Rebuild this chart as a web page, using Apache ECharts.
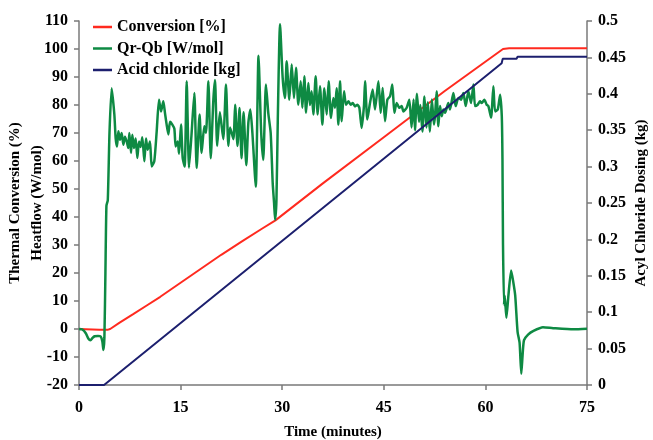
<!DOCTYPE html>
<html><head><meta charset="utf-8">
<script src="https://cdn.jsdelivr.net/npm/echarts@6/dist/echarts.min.js"></script>
<style>html,body{margin:0;padding:0;background:#fff}#c{width:653px;height:440px}</style>
</head><body><div id="c"></div>
<script>
// Time (minutes) / Conversion [%]
var convT = [0, 1, 2, 3, 4.2, 4.6, 6, 8, 10, 12, 15, 18, 21, 24, 27, 29, 36, 45, 54, 62.6, 63.5, 75];
var convV = [0, -0.1, -0.2, -0.3, -0.3, 0, 2.3, 5.3, 8.4, 11.5, 16.5, 21.5, 26.5, 31.2, 35.8, 38.8, 52, 68.5, 85, 100, 100.3, 100.3];
// Qr-Qb [W/mol]
var qT = [0, 0.5, 1.0, 1.4, 1.7, 2.0, 2.3, 2.8, 3.2, 3.45, 3.6, 3.75, 3.9, 4.05, 4.25, 4.5, 4.82, 5.22, 5.41, 5.61, 5.81, 6.05, 6.3, 6.55, 6.79, 7.04, 7.28, 7.43, 7.68, 7.87, 8.12, 8.37, 8.61, 8.86, 9.1, 9.35, 9.65, 9.89, 10.14, 10.48, 10.73, 11.12, 11.47, 11.81, 12.11, 12.45, 12.7, 12.94, 13.19, 13.44, 13.78, 14.08, 14.27, 14.57, 14.77, 15.06, 15.31, 15.6, 15.9, 16.24, 16.6, 17.03, 17.37, 17.8, 18.1, 18.5, 18.75, 19.1, 19.45, 19.84, 20.08, 20.4, 20.8, 21.3, 21.7, 22.05, 22.3, 22.8, 23.05, 23.4, 23.7, 24.0, 24.3, 24.7, 25.0, 25.3, 25.6, 26.1, 26.5, 26.9, 27.2, 27.6, 27.95, 28.3, 28.6, 28.8, 28.95, 29.15, 29.35, 29.68, 30.07, 30.41, 30.66, 31.05, 31.4, 31.74, 32.04, 32.38, 32.73, 32.98, 33.27, 33.52, 33.86, 34.1, 34.35, 34.6, 34.94, 35.24, 35.58, 35.93, 36.22, 36.57, 36.86, 37.2, 37.55, 37.8, 38.04, 38.29, 38.54, 38.78, 39.13, 39.42, 39.77, 40.11, 40.41, 40.75, 41.1, 41.39, 41.73, 42.08, 42.23, 42.57, 42.96, 43.36, 43.7, 44.2, 44.54, 44.83, 45.18, 45.52, 45.92, 46.26, 46.56, 46.9, 47.3, 47.64, 47.89, 48.38, 48.77, 49.1, 49.4, 49.6, 49.9, 50.2, 50.4, 50.7, 51.0, 51.3, 51.5, 51.8, 52.1, 52.4, 52.56, 52.8, 53.05, 53.3, 53.55, 53.79, 54.04, 54.53, 54.78, 55.27, 55.61, 56.01, 56.4, 56.75, 57.09, 57.49, 57.88, 58.23, 58.47, 58.86, 59.21, 59.45, 59.85, 60.19, 60.44, 60.84, 61.18, 61.43, 61.83, 62.17, 62.42, 62.52, 62.6, 62.75, 62.85, 63.1, 63.4, 63.8, 64.1, 64.4, 64.75, 65.05, 65.3, 65.5, 65.7, 66.3, 67.1, 68.5, 70, 73, 75];
var qV = [0, -0.2, -1.5, -3.5, -4.0, -3.2, -2.6, -2.5, -2.7, -4.5, -7.5, -3, 20, 44, 46, 70, 86, 76.6, 68.2, 65.2, 70.6, 67.6, 70, 65.8, 68.7, 67, 64.6, 70, 62.9, 69.4, 64.6, 68, 61.1, 67, 65, 68.5, 59.9, 68, 64, 67, 58, 60, 70.6, 81.9, 77.7, 81.3, 77, 73, 69.5, 74, 73, 71.5, 65.2, 67, 62.6, 73, 61, 58, 88.5, 57.6, 69, 84.3, 57.5, 76.6, 62.9, 72.4, 70, 88.5, 61, 82, 88.9, 65.4, 77.4, 67.8, 87.3, 65.4, 72, 67.8, 80.1, 65.4, 78.9, 61, 77.4, 58.5, 73.6, 78.4, 70, 50.8, 97.6, 70, 60.4, 87.3, 77, 70, 52, 45, 39, 46, 75, 108.8, 89.7, 82.5, 95.6, 81.9, 94.5, 82.5, 93.3, 80.1, 88.5, 79, 90.3, 77.2, 87.9, 80, 84.9, 76.6, 90.3, 76.6, 86.7, 73, 86, 76.6, 88.5, 75.4, 82.5, 79, 86, 73, 88.5, 74.2, 84.9, 80.1, 81.3, 80.1, 80.7, 79.5, 80.1, 79, 71.8, 80, 88.5, 74.8, 80.7, 85.5, 78.4, 88.5, 77.2, 86.1, 74.2, 81.9, 83.1, 87.3, 77.2, 80.7, 79, 79.6, 77.7, 79, 81.9, 72, 82, 71, 84, 74, 80, 70.5, 83, 72, 81, 70.5, 82, 73, 76, 84.9, 72.4, 79.6, 76, 78.4, 77.2, 80.7, 78.4, 84.3, 79.6, 82.5, 81.9, 84.3, 79.6, 84.9, 80.7, 87.3, 79.6, 80.1, 81.3, 80.7, 81.9, 80.1, 79.6, 75.5, 86.7, 77.7, 78.4, 83.7, 76, 60.5, 30, 8.6, 12, 4, 12, 20.9, 17, 12, -1, -5, -16, -9, -4, -2, -0.7, 0.6, 0.3, -0.1, 0.1];
// Acid chloride [kg] (right axis)
var acidT = [0, 3.7, 62.4, 62.55, 64.6, 64.75, 75];
var acidV = [0, 0, 0.442, 0.448, 0.448, 0.451, 0.451];

var xTicks = {min: 0, max: 75, interval: 15};
var leftTicks = {min: -20, max: 110, interval: 10};
var rightTicks = {min: 0, max: 0.5, interval: 0.05};

function pairs(t, v) { return t.map(function (x, i) { return [x, v[i]]; }); }

var FONT = 'Liberation Serif';
var axisCol = '#7a7a7a';
var lbl = {color: '#000', fontFamily: FONT, fontWeight: 'bold', fontSize: 16};
var nameStyle = {color: '#000', fontFamily: FONT, fontWeight: 'bold', fontSize: 15};

var chart = echarts.init(document.getElementById('c'), null, {renderer: 'canvas'});
chart.setOption({
  animation: false,
  backgroundColor: '#fff',
  grid: {left: 79, right: 66, top: 21, bottom: 55, containLabel: false, outerBoundsMode: 'none'},
  legend: {
    orient: 'vertical', left: 88, top: 14, itemWidth: 19, itemHeight: 2.5, itemGap: 5.5,
    icon: 'rect',
    textStyle: {color: '#000', fontFamily: FONT, fontWeight: 'bold', fontSize: 16},
    data: ['Conversion [%]', 'Qr-Qb [W/mol]', 'Acid chloride [kg]']
  },
  xAxis: {
    type: 'value', min: xTicks.min, max: xTicks.max, interval: xTicks.interval,
    name: 'Time (minutes)', nameLocation: 'middle', nameGap: 40, nameMoveOverlap: false,
    nameTextStyle: nameStyle,
    axisLine: {onZero: false, lineStyle: {color: axisCol, width: 1.5}},
    axisTick: {length: 5, lineStyle: {color: axisCol, width: 1.5}},
    axisLabel: Object.assign({margin: 15}, lbl),
    splitLine: {show: false}
  },
  yAxis: [{
    type: 'value', min: leftTicks.min, max: leftTicks.max, interval: leftTicks.interval,
    name: 'Thermal Conversion (%)\nHeatflow (W/mol)', nameLocation: 'middle', nameGap: 31, nameRotate: 90,
    nameMoveOverlap: false,
    nameTextStyle: Object.assign({lineHeight: 22}, nameStyle),
    axisLine: {show: true, onZero: false, lineStyle: {color: axisCol, width: 1.5}},
    axisTick: {show: true, length: 5, lineStyle: {color: axisCol, width: 1.5}},
    axisLabel: Object.assign({margin: 11}, lbl),
    splitLine: {show: false}
  }, {
    type: 'value', position: 'right', min: rightTicks.min, max: rightTicks.max, interval: rightTicks.interval,
    name: 'Acyl Chloride Dosing (kg)', nameLocation: 'middle', nameGap: 47, nameRotate: 90,
    nameMoveOverlap: false,
    nameTextStyle: nameStyle,
    axisLine: {show: true, onZero: false, lineStyle: {color: axisCol, width: 1.5}},
    axisTick: {show: true, length: 5, lineStyle: {color: axisCol, width: 1.5}},
    axisLabel: Object.assign({margin: 11}, lbl),
    splitLine: {show: false}
  }],
  series: [{
    name: 'Conversion [%]', type: 'line', yAxisIndex: 0, symbol: 'none', smooth: false,
    lineStyle: {color: '#FF2A1F', width: 2}, itemStyle: {color: '#FF2A1F'},
    data: pairs(convT, convV)
  }, {
    name: 'Qr-Qb [W/mol]', type: 'line', yAxisIndex: 0, symbol: 'none', smooth: 0.2,
    lineStyle: {color: '#0E8A43', width: 2.5}, itemStyle: {color: '#0E8A43'},
    data: pairs(qT, qV)
  }, {
    name: 'Acid chloride [kg]', type: 'line', yAxisIndex: 1, symbol: 'none',
    lineStyle: {color: '#1C1F6E', width: 2}, itemStyle: {color: '#1C1F6E'},
    data: pairs(acidT, acidV)
  }]
});
</script>
</body></html>
